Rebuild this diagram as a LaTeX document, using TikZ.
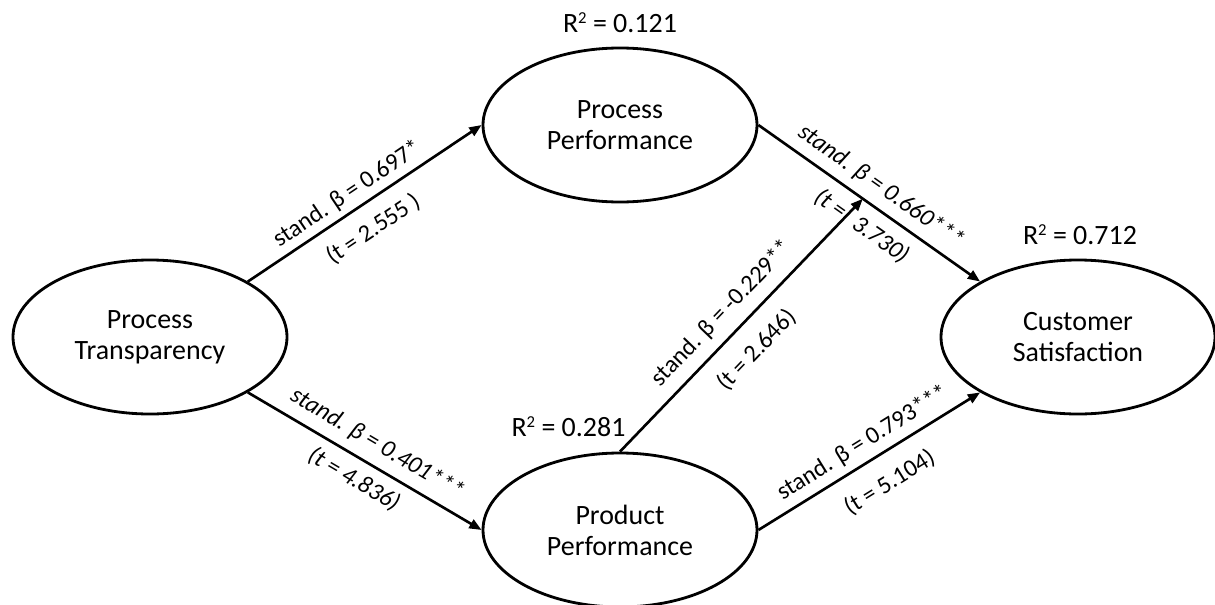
\documentclass[tikz,border=0pt]{standalone}
\usepackage{fontspec}
\setmainfont{Carlito}
\usetikzlibrary{arrows.meta}
\usetikzlibrary{shapes.geometric}

\newcommand{\rsqmark}{R\raisebox{4.6pt}{\fontsize{9.5}{10}\selectfont 2}}

\begin{document}
\begin{tikzpicture}[
    construct/.style={draw, ellipse, line width=1.6pt, minimum width=5.48cm,
        minimum height=3.08cm, inner sep=0pt, align=center,
        font=\fontsize{15.9}{17.6}\selectfont},
    effect/.style={line width=1.5pt, -{Triangle[length=7pt,width=5.5pt]}},
    coef/.style={sloped, inner sep=0pt, font=\fontsize{13.9}{16}\selectfont},
    rsq/.style={anchor=base, inner sep=0pt, font=\fontsize{15.9}{17.6}\selectfont}
]
            \useasboundingbox (0,0) rectangle (24.3,12.08);

            % constructs
            \node[construct] (trans) at (3.0,5.34) {Process\\Transparency};
            \node[construct] (procperf) at (12.4,9.58) {Process\\Performance};
            \node[construct] (prodperf) at (12.4,1.48) {Product\\Performance};
            \node[construct] (custsat) at (21.56,5.34) {Customer\\Satisfaction};

            % explained variance
            \node[rsq] (rsqproc) at (12.4,11.44) {\rsqmark{} = 0.121};
            \node[rsq] (rsqcust) at (21.6,7.2) {\rsqmark{} = 0.712};
            \node[rsq] (rsqprod) at (11.37,3.36) {\rsqmark{} = 0.281};

            % paths
            \draw[effect] (trans.north east) -- (procperf.west)
                node[coef, pos=.466, yshift=0.34cm] {stand. β = 0.697*}
                node[coef, pos=.474, yshift=-0.52cm] {(t = 2.555 )};
            \draw[effect] (trans.south east) -- (prodperf.west)
                node[coef, pos=.507, yshift=0.42cm] {\itshape stand. β = 0.401***}
                node[coef, pos=.5, yshift=-0.42cm] {\itshape (t = 4.836)};
            \draw[effect] (procperf.east) -- (custsat.north west)
                coordinate[pos=.471] (modpt)
                node[coef, pos=.5, yshift=0.40cm] {\itshape stand. β = 0.660***}
                node[coef, pos=.526, yshift=-0.46cm] {\itshape (t =\hspace{0.53em}3.730)};
            \draw[effect] (prodperf.east) -- (custsat.south west)
                node[coef, pos=.516, yshift=0.38cm] {stand. β = 0.793***}
                node[coef, pos=.523, yshift=-0.58cm] {(t = 5.104)};
            \draw[effect] (prodperf.north) -- (modpt)
                node[coef, pos=.486, yshift=0.44cm] {stand. β = -0.229**}
                node[coef, pos=.48, yshift=-0.56cm] {(t = 2.646)};
\end{tikzpicture}
\end{document}
